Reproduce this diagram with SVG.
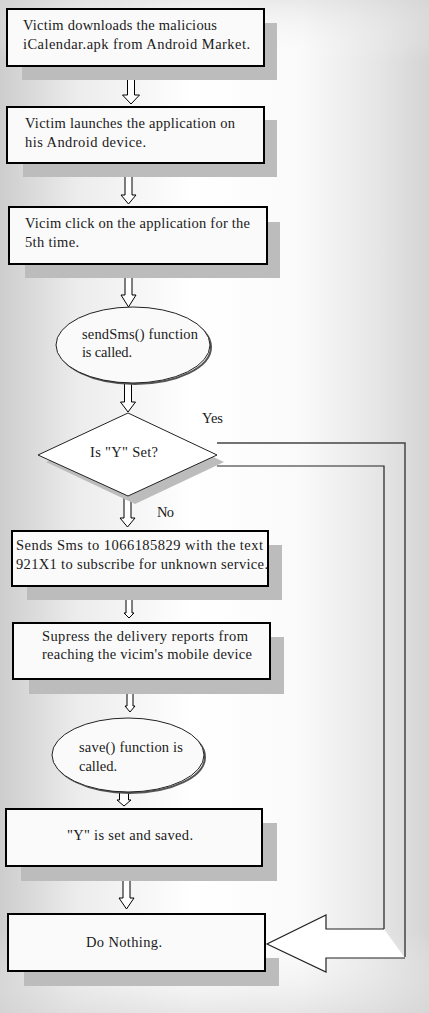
<svg xmlns="http://www.w3.org/2000/svg" width="429" height="1013" viewBox="0 0 429 1013">
<defs>
<linearGradient id="bgH" x1="0" y1="0" x2="1" y2="0">
<stop offset="0" stop-color="#cdcdcd"/>
<stop offset="0.18" stop-color="#ececec"/>
<stop offset="0.45" stop-color="#ffffff"/>
<stop offset="0.7" stop-color="#fafafa"/>
<stop offset="0.88" stop-color="#e6e6e6"/>
<stop offset="1" stop-color="#d4d4d4"/>
</linearGradient>
<linearGradient id="bgV" x1="0" y1="0" x2="0" y2="1">
<stop offset="0" stop-color="#d8d8d8" stop-opacity="0.5"/>
<stop offset="0.06" stop-color="#ffffff" stop-opacity="0"/>
<stop offset="0.92" stop-color="#ffffff" stop-opacity="0"/>
<stop offset="1" stop-color="#d8d8d8" stop-opacity="0.6"/>
</linearGradient>
<style>
.box{fill:#fafafa;stroke:#000;stroke-width:2}
.shadow{fill:#bcbcbc}
.arr{fill:#fff;stroke:#000;stroke-width:1}
.t{font-family:"Liberation Serif","Times New Roman",serif;font-size:14.5px;fill:#1a1a1a}
.ell{fill:#fafafa;stroke:#222;stroke-width:1}
.eshadow{fill:none;stroke:#555;stroke-width:2}
.con{fill:none;stroke:#444;stroke-width:1.5}
</style>
</defs>
<rect x="0" y="0" width="429" height="1013" fill="url(#bgH)"/>
<rect x="0" y="0" width="429" height="1013" fill="url(#bgV)"/>

<g id="connectors">
<polygon class="arr" points="127.5,66 134.5,66 134.5,95 139.5,95 131,104 122.5,95 127.5,95"/>
<polygon class="arr" points="125,163 132,163 132,195 136,195 128.5,204 121,195 125,195"/>
<polygon class="arr" points="125,264 132,264 132,295 136,295 128.5,307 121,295 125,295"/>
<polygon class="arr" points="124.5,383 131.5,383 131.5,402 135.5,402 128,412 120.5,402 124.5,402"/>
<polygon class="arr" points="124,496 131,496 131,518 135,518 127.5,527 120,518 124,518"/>
<polygon class="arr" points="126,586 132,586 132,613 134,613 129,618 124,613 126,613"/>
<polygon class="arr" points="127,679 133,679 133,706 135,706 130,712 125,706 127,706"/>
<polygon class="arr" points="119.5,792 128.5,792 128.5,800 131,800 124,806 117,800 119.5,800"/>
<polygon class="arr" points="123,866 130,866 130,898 134,898 126.5,909 119,898 123,898"/>
<polyline class="con" points="217,443 405,443 405,957"/>
<polyline class="con" style="stroke:#222;stroke-width:1.2" points="217,466 384,466 384,929"/>
<path fill="#fff" stroke="#222" stroke-width="1.2" d="M384,929 L326,929 L326,915 L267,944 L326,972 L326,958 L405,958"/>
<text x="202" y="423" class="t" textLength="21">Yes</text>
<text x="157" y="517" class="t" textLength="17">No</text>
</g>

<g id="n1">
<rect class="shadow" x="22" y="23" width="255" height="57"/>
<rect class="box" x="7" y="9" width="257" height="57"/>
<text class="t" x="23" y="30" textLength="194">Victim downloads the malicious</text>
<text class="t" x="23" y="49" textLength="227">iCalendar.apk from Android Market.</text>
</g>
<g id="n2">
<rect class="shadow" x="23" y="120" width="254" height="57"/>
<rect class="box" x="7" y="107" width="257" height="56"/>
<text class="t" x="25" y="128" textLength="210">Victim launches the application on</text>
<text class="t" x="25" y="147" textLength="121">his Android device.</text>
</g>
<g id="n3">
<rect class="shadow" x="25" y="222" width="255" height="56"/>
<rect class="box" x="9" y="207" width="258" height="57"/>
<text class="t" x="25" y="228" textLength="225">Vicim click on the application for the</text>
<text class="t" x="25" y="247" textLength="54">5th time.</text>
</g>
<g id="n4">
<ellipse class="eshadow" cx="135" cy="347" rx="76" ry="37"/>
<ellipse class="ell" cx="133" cy="345" rx="77" ry="38"/>
<text class="t" x="82" y="339" textLength="116">sendSms() function</text>
<text class="t" x="82" y="357" textLength="50">is called.</text>
</g>
<g id="n5">
<polygon class="shadow" points="135,420 224,462 135,504 46,462"/>
<polygon fill="#fff" stroke="#222" stroke-width="1" points="128,413 217,455 128,496 38,455"/>
<text class="t" x="90" y="457" textLength="68">Is "Y" Set?</text>
</g>
<g id="n6">
<rect class="shadow" x="27" y="545" width="255" height="55"/>
<rect class="box" x="12" y="531" width="256" height="55"/>
<text class="t" x="16" y="550" textLength="247">Sends Sms to 1066185829 with the text</text>
<text class="t" x="16" y="569" textLength="252">921X1 to subscribe for unknown service.</text>
</g>
<g id="n7">
<rect class="shadow" x="29" y="637" width="255" height="57"/>
<rect class="box" x="13" y="623" width="257" height="56"/>
<text class="t" x="42" y="641" textLength="206">Supress the delivery reports from</text>
<text class="t" x="42" y="659" textLength="210">reaching the vicim's mobile device</text>
</g>
<g id="n8">
<ellipse class="eshadow" cx="130" cy="757" rx="75" ry="36"/>
<ellipse class="ell" cx="128" cy="755" rx="76" ry="37"/>
<text class="t" x="79" y="752" textLength="104">save() function is</text>
<text class="t" x="79" y="771" textLength="38">called.</text>
</g>
<g id="n9">
<rect class="shadow" x="21" y="823" width="256" height="58"/>
<rect class="box" x="6" y="809" width="256" height="57"/>
<text class="t" x="67" y="840" textLength="126">"Y" is set and saved.</text>
</g>
<g id="n10">
<rect class="shadow" x="24" y="958" width="255" height="28"/>
<rect class="box" x="8" y="914" width="257" height="57"/>
<text class="t" x="86" y="947" textLength="76">Do Nothing.</text>
</g>
</svg>
